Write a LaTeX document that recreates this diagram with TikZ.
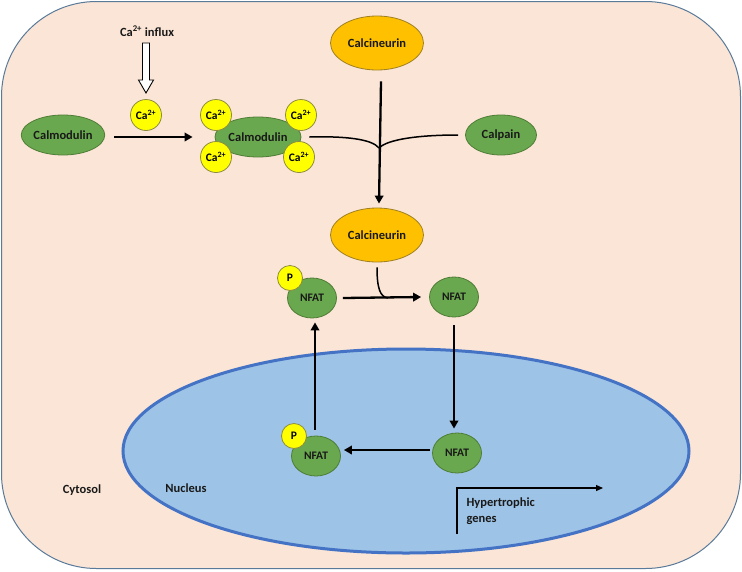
\documentclass[tikz,border=0pt]{standalone}
\usepackage{fontspec}
\setmainfont{Carlito}
\usetikzlibrary{arrows.meta,shapes.geometric,calc}
\definecolor{bgc}{HTML}{FBE5D6}
\definecolor{bord}{HTML}{5A7A99}
\definecolor{nucf}{HTML}{9DC3E6}
\definecolor{nucl}{HTML}{4472C4}
\definecolor{gfill}{HTML}{6AA84F}
\definecolor{gline}{HTML}{4E7D35}
\definecolor{ofill}{HTML}{FFC000}
\definecolor{oline}{HTML}{A08020}
\definecolor{yfill}{HTML}{FFFF00}
\definecolor{yline}{HTML}{8C8C40}
\tikzset{
  lbl/.style={font=\bfseries\fontsize{12.5}{14}\selectfont, text=black!90},
  greenell/.style={ellipse, fill=gfill, draw=gline, line width=0.8pt, inner sep=0pt, lbl},
  orangeell/.style={ellipse, fill=ofill, draw=oline, line width=0.8pt, inner sep=0pt, lbl, minimum width=93pt, minimum height=54pt},
  caball/.style={circle, fill=yfill, draw=yline, line width=0.8pt, inner sep=0pt, minimum size=31pt, font=\bfseries\fontsize{11.5}{13}\selectfont},
  pball/.style={circle, fill=yfill, draw=yline, line width=0.8pt, inner sep=0pt, minimum size=25pt, font=\bfseries\fontsize{11.5}{13}\selectfont},
  nfat/.style={greenell, minimum width=49pt, minimum height=40pt, font=\bfseries\fontsize{11.5}{13}\selectfont},
  thick arrow/.style={line width=2.3pt, -{Triangle[length=8pt,width=8.5pt]}},
  thin curve/.style={line width=1.5pt},
}
\begin{document}
\begin{tikzpicture}[x=1pt,y=-1pt]
\useasboundingbox (0,0) rectangle (742,571);
\draw[fill=bgc, draw=bord, line width=1pt, rounded corners=95pt] (1.5,1.5) rectangle (740.5,568.5);

% Nucleus
\node[ellipse, fill=nucf, draw=nucl, line width=3pt, minimum width=566pt, minimum height=204pt, inner sep=0pt] (nucleus) at (406,451) {};
\node[lbl] (nuclbl) at (186,488) {Nucleus};
\node[lbl] (cyto) at (82,490) {Cytosol};

% Ca influx
\node[lbl] (influx) at (147,31) {Ca\textsuperscript{2+} influx};
\node[caball] (ca0) at (146,115) {Ca\textsuperscript{2+}};
\coordinate (hs) at (146,43);
\draw[fill=white, draw=black, line width=0.9pt]
  ($(hs)+(-3.5,0)$) -- ($(hs)+(3.5,0)$) -- ($(hs)+(3.5,37)$) -- ($(hs)+(7.5,37)$)
  -- ($(hs)+(0,50)$) -- ($(hs)+(-7.5,37)$) -- ($(hs)+(-3.5,37)$) -- cycle;

% Calmodulin
\node[greenell, minimum width=80pt, minimum height=40pt] (cam1) at (63,135) {Calmodulin};
\node[greenell, minimum width=86pt, minimum height=40pt] (cam2) at (258,137) {Calmodulin};
\node[caball] (ca1) at (216,115) {Ca\textsuperscript{2+}};
\node[caball] (ca2) at (301,115) {Ca\textsuperscript{2+}};
\node[caball] (ca3) at (216,157) {Ca\textsuperscript{2+}};
\node[caball] (ca4) at (299,157) {Ca\textsuperscript{2+}};
\draw[thick arrow] ($(cam1.east)+(9,2)$) -- ($(cam2.west)+(-22,0)$);

% Calcineurin / Calpain
\node[orangeell] (cn1) at (377,43) {Calcineurin};
\node[greenell, minimum width=71pt, minimum height=40pt] (calp) at (501,135) {Calpain};
\node[orangeell] (cn2) at (377,235) {Calcineurin};
\coordinate (join) at (379,148);
\draw[thick arrow] ($(cn1.south)+(4,11)$) -- ($(cn2.north)+(2,-4)$);
\draw[thin curve] ($(cam2.east)+(8,0)$) .. controls (345,136) and (372,139) .. (join);
\draw[thin curve] ($(calp.west)+(-7,0)$) .. controls (420,135) and (388,139) .. (join);

% NFAT cycle
\node[nfat] (nf1) at (312,298) {NFAT};
\node[pball] (p1) at (290,278) {P};
\node[nfat] (nf2) at (454,297) {NFAT};
\node[nfat] (nf3) at (457,453) {NFAT};
\node[nfat] (nf4) at (316,456) {NFAT};
\node[pball] (p2) at (294,436) {P};

\draw[thick arrow] ($(nf1.east)+(6,0)$) -- ($(nf2.west)+(-8,0)$);
\draw[thin curve] ($(cn2.south)+(0,5)$) .. controls (377,288) and (380,297) .. (388,298);
\draw[thick arrow] ($(nf2.south)+(0,8)$) -- ($(nf3.north)+(-3,-4)$);
\draw[thick arrow] ($(nf3.west)+(-2,-3)$) -- ($(nf4.east)+(3,-6)$);
\draw[thick arrow] ($(nf4.north)+(-1,-6)$) -- ($(nf1.south)+(3,4)$);

% Hypertrophic genes
\coordinate (gs) at (457,534);
\coordinate (ge) at (603,488);
\draw[line width=1.3pt, -{Triangle[length=7pt,width=6pt]}] (gs) |- (ge);
\node[lbl, align=left, anchor=north west, font=\bfseries\fontsize{12.5}{16}\selectfont] (genes) at (463,494) {Hypertrophic\\genes};
\end{tikzpicture}
\end{document}
